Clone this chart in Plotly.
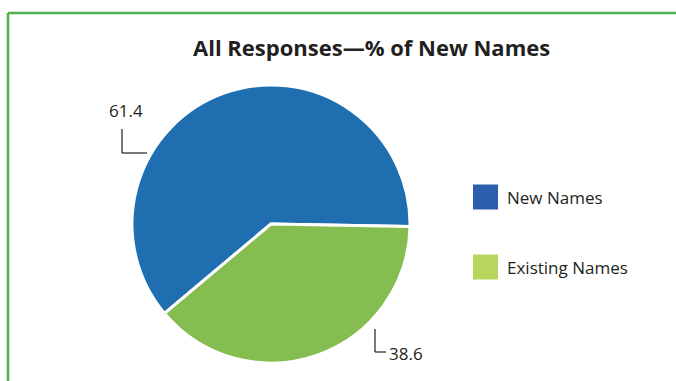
import plotly.graph_objects as go

# ---- data ----
categories = ["New Names", "Existing Names"]
values = [61.4, 38.6]
value_labels = ["61.4", "38.6"]
colors = ["#1f6fb0", "#86bd50"]
legend_colors = ["#2b5fab", "#b8d65e"]
title_text = "<b>All Responses—% of New Names</b>"

W, H = 676, 381
def px(x):
    return x / W
def py(y):
    return 1 - y / H

FONT = "Open Sans"
TXT = "#231f20"

fig = go.Figure()
fig.add_trace(go.Pie(
    labels=categories,
    values=values,
    marker=dict(colors=colors, line=dict(color="white", width=3)),
    sort=False,
    direction="clockwise",
    rotation=-130,
    textinfo="none",
    hoverinfo="label+value",
    showlegend=False,
    domain=dict(x=[px(132), px(410)], y=[py(363), py(85)]),
))

shapes = []
annotations = []

# border (left + top)
shapes.append(dict(type="line", xref="paper", yref="paper",
                   x0=px(8), y0=py(13), x1=px(8), y1=0,
                   line=dict(color="#4caf50", width=2.5)))
shapes.append(dict(type="line", xref="paper", yref="paper",
                   x0=px(8), y0=py(13), x1=1, y1=py(13),
                   line=dict(color="#4caf50", width=2.5)))

# title
annotations.append(dict(text=title_text, xref="paper", yref="paper",
                        x=px(371), y=py(47), showarrow=False,
                        xanchor="center", yanchor="middle",
                        font=dict(family=FONT, size=22, color=TXT)))

# value labels with elbow leader lines
label_pos = [(126, 111, "center"), (387, 353, "left")]
leaders = [[(122, 129), (122, 153), (147, 153)],
           [(375, 329), (375, 352), (386, 352)]]
for lab, (lx, ly, anc), pts in zip(value_labels, label_pos, leaders):
    annotations.append(dict(text=lab, xref="paper", yref="paper",
                            x=px(lx), y=py(ly), showarrow=False,
                            xanchor=anc, yanchor="middle",
                            font=dict(family=FONT, size=17, color=TXT)))
    for (xa, ya), (xb, yb) in zip(pts[:-1], pts[1:]):
        shapes.append(dict(type="line", xref="paper", yref="paper",
                           x0=px(xa), y0=py(ya), x1=px(xb), y1=py(yb),
                           line=dict(color=TXT, width=1.2)))

# custom legend
leg_y = [197, 267]
for name, col, yc in zip(categories, legend_colors, leg_y):
    shapes.append(dict(type="rect", xref="paper", yref="paper",
                       x0=px(473), x1=px(498), y0=py(yc - 12.5), y1=py(yc + 12.5),
                       fillcolor=col, line=dict(width=0)))
    annotations.append(dict(text=name, xref="paper", yref="paper",
                            x=px(505), y=py(yc), showarrow=False,
                            xanchor="left", yanchor="middle",
                            font=dict(family=FONT, size=17, color=TXT)))

fig.update_layout(
    width=W, height=H,
    margin=dict(l=0, r=0, t=0, b=0),
    paper_bgcolor="white",
    plot_bgcolor="white",
    shapes=shapes,
    annotations=annotations,
)

fig.write_html("out.html",
               config={"displayModeBar": False},
               post_script="document.body.style.margin='0px';document.body.style.overflow='hidden';")
